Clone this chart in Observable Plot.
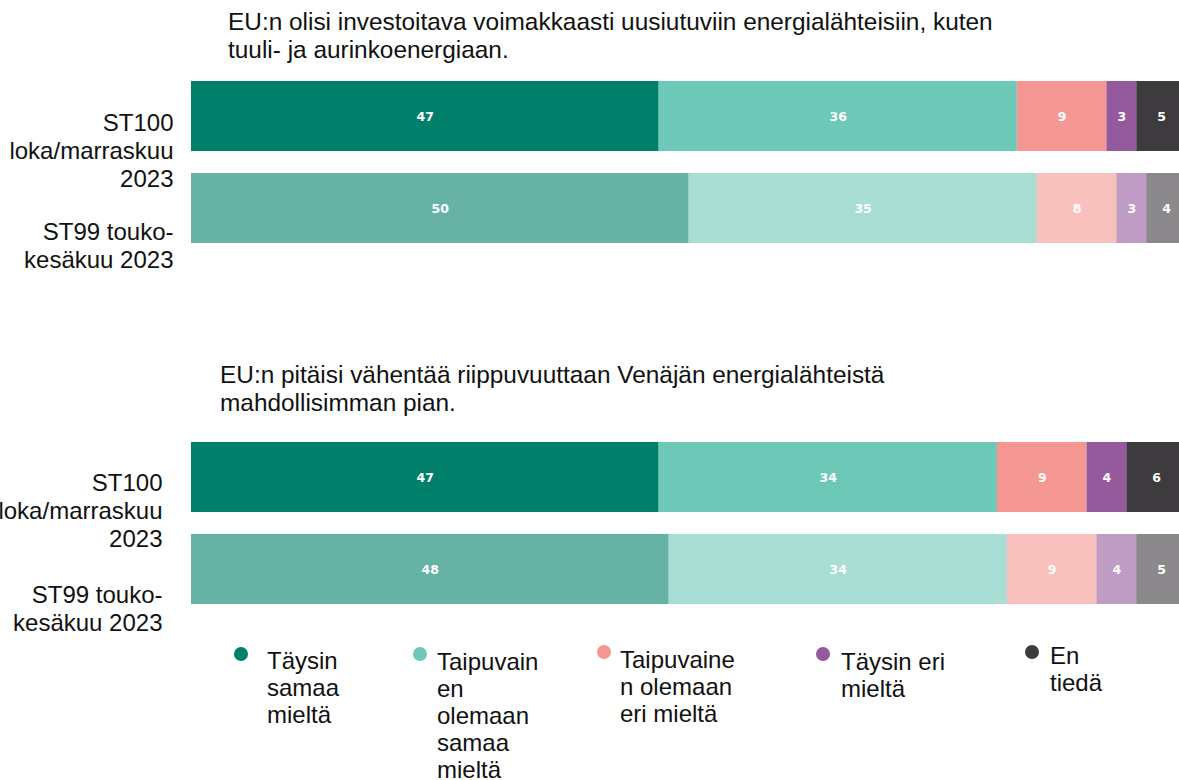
<!DOCTYPE html>
<html>
<head>
<meta charset="utf-8">
<script src="https://cdn.jsdelivr.net/npm/d3@7"></script>
<script src="https://cdn.jsdelivr.net/npm/@observablehq/plot@0.6"></script>
<style>
  html, body { margin: 0; padding: 0; background: #fff; }
  #root { position: relative; width: 1179px; height: 780px; overflow: hidden;
          font-family: "Liberation Sans", Arial, sans-serif; color: #111; }
  .title { position: absolute; font-size: 24.4px; line-height: 28px; white-space: pre-line; }
  .panel { position: absolute; left: 0; }
  .lg-dot { position: absolute; width: 14px; height: 14px; border-radius: 50%; filter: blur(0.7px); }
  .lg-text { position: absolute; font-size: 24px; line-height: 27px; white-space: pre-line; }
</style>
</head>
<body>
<div id="root"></div>
<script>
// ---- data ----
const categories = [
  "Täysin samaa mieltä",
  "Taipuvainen olemaan samaa mieltä",
  "Taipuvainen olemaan eri mieltä",
  "Täysin eri mieltä",
  "En tiedä"
];
const legendLabels = [
  "Täysin\nsamaa\nmieltä",
  "Taipuvain\nen\nolemaan\nsamaa\nmieltä",
  "Taipuvaine\nn olemaan\neri mieltä",
  "Täysin eri\nmieltä",
  "En\ntiedä"
];
const periods = ["ST100 loka/marraskuu 2023", "ST99 touko-kesäkuu 2023"];
const periodLabels = ["ST100\nloka/marraskuu\n2023", "ST99 touko-\nkesäkuu 2023"];
const questions = [
  "EU:n olisi investoitava voimakkaasti uusiutuviin energialähteisiin, kuten\ntuuli- ja aurinkoenergiaan.",
  "EU:n pitäisi vähentää riippuvuuttaan Venäjän energialähteistä\nmahdollisimman pian."
];
const q1_st100 = [47, 36, 9, 3, 5];
const q1_st99  = [50, 35, 8, 3, 4];
const q2_st100 = [47, 34, 9, 4, 6];
const q2_st99  = [48, 34, 9, 4, 5];

// ---- styles ----
const colors = ["#00806a", "#6ec8b7", "#f49792", "#945a9c", "#3d3b3e"];
const olderOpacity = 0.6;

function rowsFor(a, b) {
  const rows = [];
  [a, b].forEach((vals, pi) => vals.forEach((v, ci) =>
    rows.push({period: periods[pi], category: categories[ci], value: v})));
  return rows;
}

function panel(rows, labelGap, dys) {
  const labelOpts = {
    frameAnchor: "left", textAnchor: "end", dx: -labelGap,
    fontSize: 24, lineHeight: 28 / 24, fill: "#111"
  };
  return Plot.plot({
    width: 1179, height: 215,
    marginLeft: 191, marginRight: 0, marginTop: 0, marginBottom: 0,
    x: {domain: [0, 100], range: [191, 1186], axis: null},
    y: {domain: periods, range: [11, 173], paddingInner: 22 / 92, paddingOuter: 0, axis: null},
    color: {domain: categories, range: colors},
    style: {fontFamily: "'Liberation Sans', Arial, sans-serif", background: "transparent", overflow: "hidden"},
    marks: [
      Plot.barX(rows, Plot.stackX({
        x: "value", y: "period", fill: "category",
        fillOpacity: d => d.period === periods[1] ? olderOpacity : 1
      })),
      Plot.text(rows, Plot.stackX({
        x: "value", y: "period", text: d => String(d.value),
        fill: "white", fontSize: 12.5, fontWeight: "bold",
        fontFamily: "'DejaVu Sans', Verdana, sans-serif"
      })),
      Plot.text([periods[0]], {...labelOpts, y: d => d, text: () => periodLabels[0], dy: dys[0]}),
      Plot.text([periods[1]], {...labelOpts, y: d => d, text: () => periodLabels[1], dy: dys[1]})
    ]
  });
}

const root = document.getElementById("root");

function addTitle(text, left, top) {
  const d = document.createElement("div");
  d.className = "title";
  d.style.left = left + "px";
  d.style.top = top + "px";
  d.textContent = text;
  root.appendChild(d);
}
function addPanel(svg, top) {
  const d = document.createElement("div");
  d.className = "panel";
  d.style.top = top + "px";
  d.appendChild(svg);
  root.appendChild(d);
}

addTitle(questions[0], 228, 8);
addPanel(panel(rowsFor(q1_st100, q1_st99), 18, [34, 37]), 70);
addTitle(questions[1], 220, 361);
addPanel(panel(rowsFor(q2_st100, q2_st99), 29, [33, 39]), 431);

// legend (layout: dot centres and text top-left corners)
const lgDot = [[241, 654], [420, 654], [604, 652], [823, 654], [1032, 652]];
const lgText = [[267, 647], [437, 648], [620, 646], [841, 648], [1050, 642]];
categories.forEach((c, i) => {
  const dot = document.createElement("div");
  dot.className = "lg-dot";
  dot.style.left = (lgDot[i][0] - 7) + "px";
  dot.style.top = (lgDot[i][1] - 7) + "px";
  dot.style.background = colors[i];
  root.appendChild(dot);
  const t = document.createElement("div");
  t.className = "lg-text";
  t.style.left = lgText[i][0] + "px";
  t.style.top = lgText[i][1] + "px";
  t.textContent = legendLabels[i];
  root.appendChild(t);
});
</script>
</body>
</html>
